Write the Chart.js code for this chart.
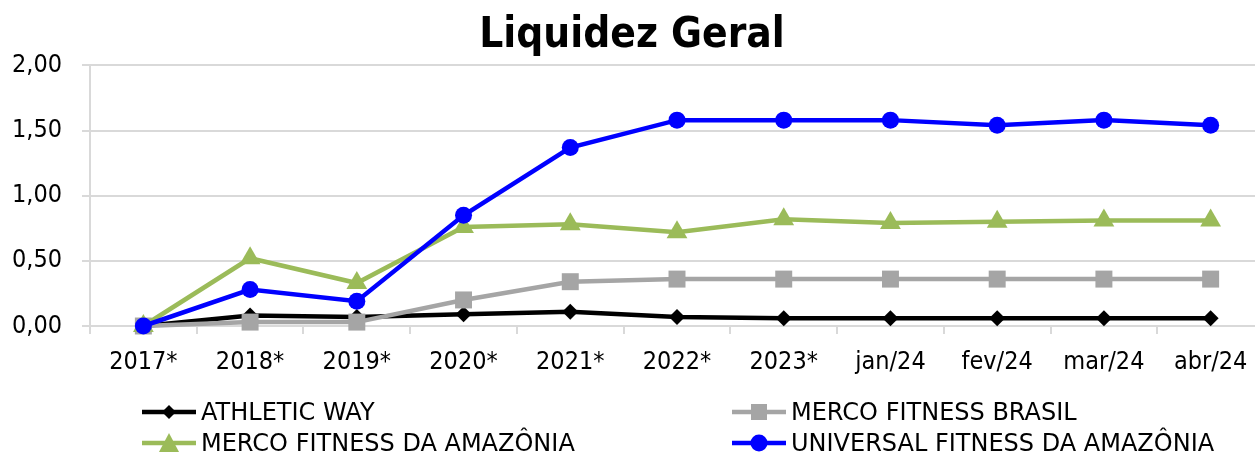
<!DOCTYPE html>
<html>
<head>
<meta charset="utf-8">
<script src="https://cdn.jsdelivr.net/npm/chart.js@4"></script>
<style>
  html, body { margin: 0; padding: 0; background: #fff; overflow: hidden; }
  #wrap { position: relative; width: 1255px; height: 456px; overflow: hidden; }
  #legend { position: absolute; left: 0; top: 396px; width: 1255px; height: 60px;
            font-family: "DejaVu Sans", sans-serif; font-size: 24px; color: #000; }
  .item { position: absolute; display: flex; align-items: center; height: 31px; white-space: nowrap; }
  .item svg { margin-right: 3px; }
</style>
</head>
<body>
<div id="wrap">
  <canvas id="liquidezChart" width="1264" height="456"></canvas>
  <div id="legend"></div>
</div>
<script>
// Data
const categories = ['2017*', '2018*', '2019*', '2020*', '2021*', '2022*', '2023*', 'jan/24', 'fev/24', 'mar/24', 'abr/24'];
const athleticWay = [0, 0.08, 0.07, 0.09, 0.11, 0.07, 0.06, 0.06, 0.06, 0.06, 0.06];
const mercoBrasil = [0, 0.03, 0.03, 0.20, 0.34, 0.36, 0.36, 0.36, 0.36, 0.36, 0.36];
const mercoAmazonia = [0, 0.52, 0.33, 0.76, 0.78, 0.72, 0.82, 0.79, 0.80, 0.81, 0.81];
const universalAmazonia = [0, 0.28, 0.19, 0.85, 1.37, 1.58, 1.58, 1.58, 1.54, 1.58, 1.54];
const yTicks = [0, 0.5, 1, 1.5, 2];

const series = [
  { label: 'ATHLETIC WAY', data: athleticWay, color: '#000000', style: 'rectRot', radius: 8 },
  { label: 'MERCO FITNESS BRASIL', data: mercoBrasil, color: '#a5a5a5', style: 'rect', radius: 12 },
  { label: 'MERCO FITNESS DA AMAZÔNIA', data: mercoAmazonia, color: '#9bbb59', style: 'triangle', radius: 12 },
  { label: 'UNIVERSAL FITNESS DA AMAZÔNIA', data: universalAmazonia, color: '#0000ff', style: 'circle', radius: 8.5 }
];

const gridColor = '#d9d9d9';
const tickFont = { family: 'DejaVu Sans Condensed', size: 25 };
const ctx = document.getElementById('liquidezChart').getContext('2d');
const chart = new Chart(ctx, {
  type: 'line',
  data: {
    labels: categories,
    datasets: series.map((s, i) => ({
      label: s.label,
      data: s.data,
      order: series.length - 1 - i,
      borderColor: s.color,
      backgroundColor: s.color,
      borderWidth: 4.5,
      pointStyle: s.style,
      pointRadius: s.radius,
      pointBorderWidth: 0,
      pointBackgroundColor: s.color,
      tension: 0,
      clip: false
    }))
  },
  options: {
    responsive: false,
    animation: false,
    layout: { autoPadding: false, padding: { left: 0, right: 0, top: 0, bottom: 66 } },
    scales: {
      x: {
        offset: true,
        grid: { offset: true, drawOnChartArea: false, drawTicks: true, tickLength: 8, color: gridColor, lineWidth: 2 },
        border: { color: gridColor, width: 2 },
        ticks: { color: '#000', font: tickFont, padding: 13, maxRotation: 0, autoSkip: false }
      },
      y: {
        min: 0,
        max: 2,
        afterBuildTicks: (scale) => { scale.ticks = yTicks.map(v => ({ value: v })); },
        afterFit: (scale) => { scale.width = 90; },
        grid: { color: gridColor, lineWidth: 2, tickLength: 8 },
        border: { color: gridColor, width: 2 },
        ticks: {
          color: '#000',
          font: tickFont,
          padding: 20,
          callback: (value) => value.toFixed(2).replace('.', ',')
        }
      }
    },
    plugins: {
      legend: { display: false },
      tooltip: { enabled: false },
      title: {
        display: true,
        text: 'Liquidez Geral',
        color: '#000',
        font: { family: 'DejaVu Sans Condensed', size: 42, weight: 'bold' },
        padding: { top: 11, bottom: 4 }
      }
    }
  }
});

// HTML legend in two columns like the reference
const legendEl = document.getElementById('legend');
const legendPos = [[140, 0], [730, 0], [140, 31], [730, 31]];
function markerSvg(s) {
  let shape = '';
  const c = s.color;
  if (s.style === 'rectRot') shape = `<polygon points="29,6 36,13 29,20 22,13" fill="${c}"/>`;
  else if (s.style === 'rect') shape = `<rect x="21" y="5" width="16" height="16" fill="${c}"/>`;
  else if (s.style === 'triangle') shape = `<polygon points="29,3 39,22 19,22" fill="${c}"/>`;
  else shape = `<circle cx="29" cy="13" r="8.5" fill="${c}"/>`;
  return `<svg width="58" height="26"><line x1="2" y1="13" x2="56" y2="13" stroke="${c}" stroke-width="4.5"/>${shape}</svg>`;
}
series.forEach((s, i) => {
  const div = document.createElement('div');
  div.className = 'item';
  div.style.left = legendPos[i][0] + 'px';
  div.style.top = legendPos[i][1] + 'px';
  div.innerHTML = markerSvg(s) + '<span>' + s.label + '</span>';
  legendEl.appendChild(div);
});
</script>
</body>
</html>
